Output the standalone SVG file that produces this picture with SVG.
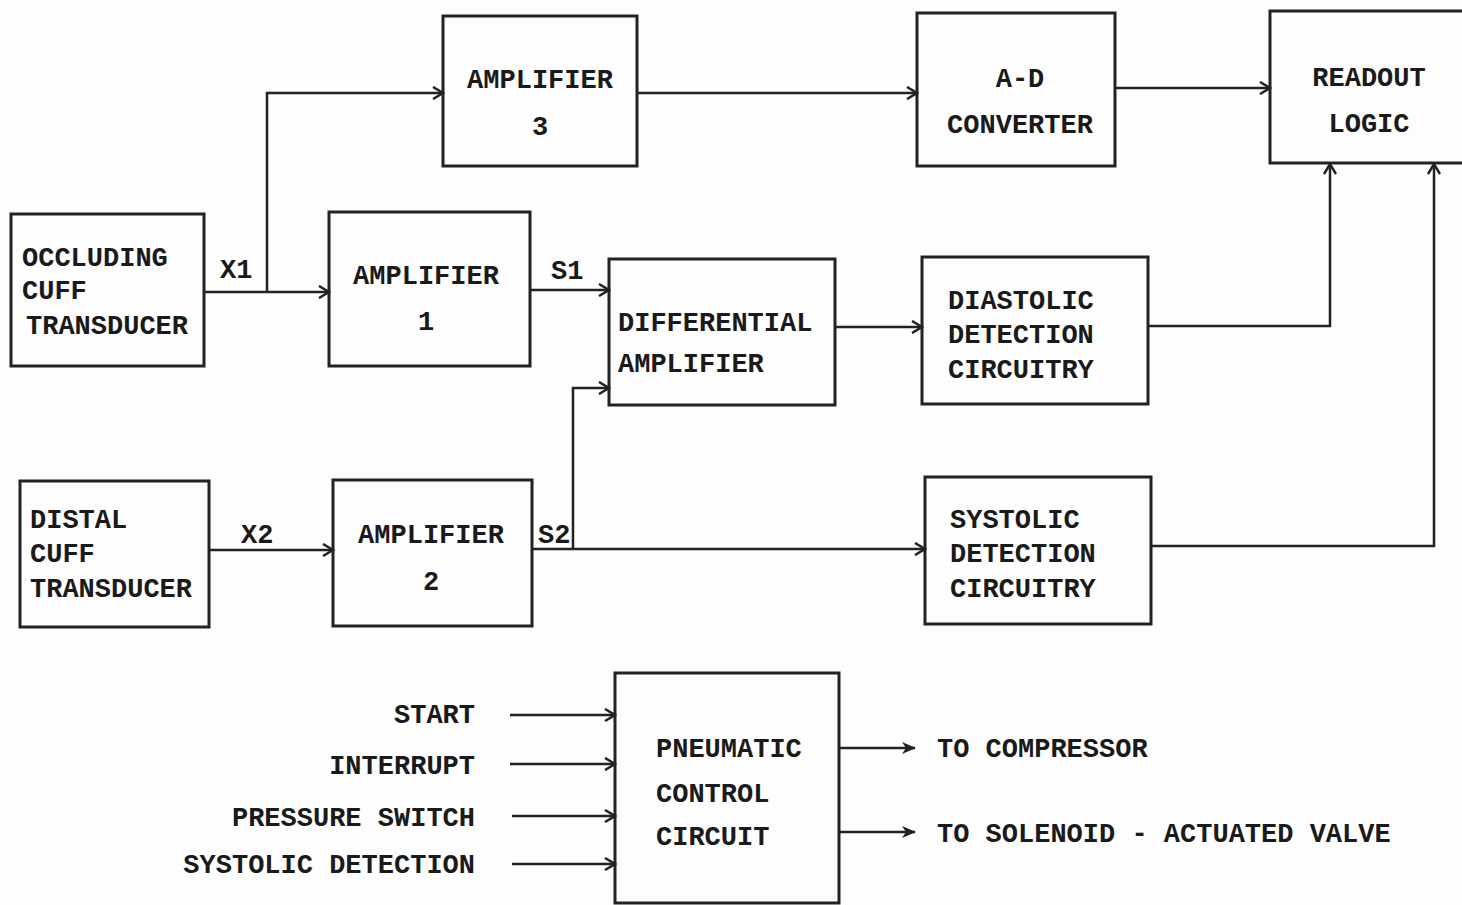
<svg xmlns="http://www.w3.org/2000/svg" width="1462" height="905" viewBox="0 0 1462 905">
<style>
.box{fill:none;stroke:#222;stroke-width:3}
.ln{fill:none;stroke:#222;stroke-width:2.5}
text{font-family:"Liberation Mono","DejaVu Sans Mono",monospace;font-weight:bold;font-size:27px;fill:#1a1a1a}
.c{text-anchor:middle}
.r{text-anchor:end}
</style>
<defs>
<marker id="open" markerWidth="14" markerHeight="14" refX="12" refY="7" orient="auto" markerUnits="userSpaceOnUse">
<path d="M2,1 L12,7 L2,13" fill="none" stroke="#222" stroke-width="2.5"/>
</marker>
<marker id="solid" markerWidth="16" markerHeight="14" refX="14" refY="7" orient="auto" markerUnits="userSpaceOnUse">
<path d="M1,1 L15,7 L1,13 L5,7 Z" fill="#222"/>
</marker>
</defs>
<rect width="1462" height="905" fill="#fdfdfd"/>
<g id="amp3"><rect class="box" x="443" y="16" width="194" height="150"/><text class="c" x="540" y="88">AMPLIFIER</text><text class="c" x="540" y="135">3</text></g>
<g id="adc"><rect class="box" x="917" y="13" width="198" height="153"/><text class="c" x="1020" y="87">A-D</text><text class="c" x="1020" y="133">CONVERTER</text></g>
<g id="readout"><rect class="box" x="1270" y="11" width="200" height="152"/><text class="c" x="1369" y="86">READOUT</text><text class="c" x="1369" y="132">LOGIC</text></g>
<g id="occluding"><rect class="box" x="11" y="214" width="193" height="152"/><text x="22" y="266">OCCLUDING</text><text x="22" y="299">CUFF</text><text x="26" y="334">TRANSDUCER</text></g>
<g id="amp1"><rect class="box" x="329" y="212" width="201" height="154"/><text class="c" x="426" y="284">AMPLIFIER</text><text class="c" x="426" y="330">1</text></g>
<g id="diff"><rect class="box" x="609" y="259" width="226" height="146"/><text x="618" y="331">DIFFERENTIAL</text><text x="618" y="372">AMPLIFIER</text></g>
<g id="diastolic"><rect class="box" x="922" y="257" width="226" height="147"/><text x="948" y="309">DIASTOLIC</text><text x="948" y="343">DETECTION</text><text x="948" y="378">CIRCUITRY</text></g>
<g id="distal"><rect class="box" x="20" y="481" width="189" height="146"/><text x="30" y="528">DISTAL</text><text x="30" y="562">CUFF</text><text x="30" y="597">TRANSDUCER</text></g>
<g id="amp2"><rect class="box" x="333" y="480" width="199" height="146"/><text class="c" x="431" y="543">AMPLIFIER</text><text class="c" x="431" y="590">2</text></g>
<g id="systolic"><rect class="box" x="925" y="477" width="226" height="147"/><text x="950" y="528">SYSTOLIC</text><text x="950" y="562">DETECTION</text><text x="950" y="597">CIRCUITRY</text></g>
<g id="pneumatic"><rect class="box" x="615" y="673" width="224" height="230"/><text x="656" y="757">PNEUMATIC</text><text x="656" y="802">CONTROL</text><text x="656" y="845">CIRCUIT</text></g>
<g id="connectors">
<path class="ln" d="M204,292 H329" marker-end="url(#open)"/>
<path class="ln" d="M267,292 V93 H443" marker-end="url(#open)"/>
<path class="ln" d="M637,93 H917" marker-end="url(#open)"/>
<path class="ln" d="M1115,88 H1270" marker-end="url(#open)"/>
<path class="ln" d="M530,290 H609" marker-end="url(#open)"/>
<path class="ln" d="M835,327 H922" marker-end="url(#open)"/>
<path class="ln" d="M1148,326 H1330 V164" marker-end="url(#open)"/>
<path class="ln" d="M1151,546 H1434 V164" marker-end="url(#open)"/>
<path class="ln" d="M209,550 H333" marker-end="url(#open)"/>
<path class="ln" d="M532,549 H925" marker-end="url(#open)"/>
<path class="ln" d="M573,549 V388 H609" marker-end="url(#open)"/>
<path class="ln" d="M510,715 H615" marker-end="url(#open)"/>
<path class="ln" d="M510,764 H615" marker-end="url(#open)"/>
<path class="ln" d="M512,816 H615" marker-end="url(#open)"/>
<path class="ln" d="M512,864 H615" marker-end="url(#open)"/>
<path class="ln" d="M840,748 H915" marker-end="url(#solid)"/>
<path class="ln" d="M840,832 H915" marker-end="url(#solid)"/>
<text x="220" y="278">X1</text>
<text x="551" y="279">S1</text>
<text x="241" y="543">X2</text>
<text x="538" y="543">S2</text>
<text class="r" x="475" y="723">START</text>
<text class="r" x="475" y="774">INTERRUPT</text>
<text class="r" x="475" y="826">PRESSURE SWITCH</text>
<text class="r" x="475" y="873">SYSTOLIC DETECTION</text>
<text x="937" y="757">TO COMPRESSOR</text>
<text x="937" y="842">TO SOLENOID - ACTUATED VALVE</text>
</g>
</svg>
